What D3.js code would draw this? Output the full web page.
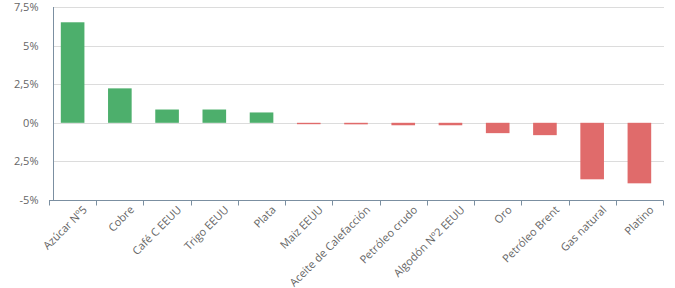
<!DOCTYPE html>
<html>
  <head>
    <meta charset="utf-8">
    <title>Materias primas</title>
    <script src="https://cdn.jsdelivr.net/npm/d3@7"></script>
    <style>
      body { margin: 0; background: #fff; }
      svg text { font-family: "Open Sans", "Noto Sans", sans-serif; font-size: 11px; fill: #666; }
      .grid line { stroke: #dcdcdc; stroke-width: 1px; }
      .axis path, .axis line { stroke: #7b8fa1; }
    </style>
  </head>
  <body>
    <div id="chart"></div>
    <script>
// datos
var categorias = ["Azúcar Nº5", "Cobre", "Café C EEUU", "Trigo EEUU", "Plata", "Maiz EEUU",
  "Aceite de Calefacción", "Petróleo crudo", "Algodón Nº2 EEUU", "Oro", "Petróleo Brent",
  "Gas natural", "Platino"];
var valores = [6.51, 2.23, 0.86, 0.86, 0.67, -0.09, -0.1, -0.16, -0.16, -0.67, -0.8, -3.66, -3.92];
var ticksY = [7.5, 5, 2.5, 0, -2.5, -5];
var etiquetasY = ["7,5%", "5%", "2,5%", "0%", "2,5%", "-5%"];

var W = 675, H = 288;

var svg = d3.select("#chart").append("svg")
    .attr("width", W)
    .attr("height", H);

var x = d3.scaleBand()
    .domain(categorias)
    .range([49, 663])
    .paddingInner(0.5)
    .paddingOuter(0.25);

var y = d3.scaleLinear()
    .domain([-5, 7.5])
    .range([200, 7]);

// rejilla
svg.append("g")
    .attr("class", "grid")
    .selectAll("line")
    .data(ticksY)
    .enter().append("line")
    .attr("x1", 53).attr("x2", 664)
    .attr("y1", function(d){ return Math.round(y(d)) + 0.5; })
    .attr("y2", function(d){ return Math.round(y(d)) + 0.5; });

// barras
svg.append("g")
    .selectAll("rect")
    .data(valores)
    .enter().append("rect")
    .attr("x", function(d, i){ return x(categorias[i]); })
    .attr("width", x.bandwidth())
    .attr("y", function(d){ return y(Math.max(0, d)); })
    .attr("height", function(d){ return Math.abs(y(d) - y(0)); })
    .attr("fill", function(d){ return d >= 0 ? "#4daf6c" : "#e06b6b"; });

// eje Y
var ejeY = svg.append("g")
    .attr("class", "axis")
    .attr("transform", "translate(53.5,0)")
    .call(d3.axisLeft(y).tickValues(ticksY).tickSize(0).tickPadding(15)
      .tickFormat(function(d, i){ return etiquetasY[i]; }));
ejeY.select(".domain").attr("d", "M0," + y(7.5) + "V" + y(-5));

// eje X
var paso = x.step();
var bordes = d3.range(categorias.length + 1).map(function(i){ return 49 + i * paso; });
var ejeX = svg.append("g")
    .attr("class", "axis")
    .attr("transform", "translate(0,200.5)");
ejeX.append("path")
    .attr("d", "M49,0H663")
    .attr("fill", "none");
ejeX.selectAll("line")
    .data(bordes)
    .enter().append("line")
    .attr("x1", function(d){ return Math.round(d) + 0.5; })
    .attr("x2", function(d){ return Math.round(d) + 0.5; })
    .attr("y1", 0).attr("y2", 5);
ejeX.selectAll("text")
    .data(categorias)
    .enter().append("text")
    .attr("text-anchor", "end")
    .attr("transform", function(d){
      return "translate(" + (x(d) + x.bandwidth() / 2 + 15) + ",10) rotate(-45)";
    })
    .text(function(d){ return d; });
    </script>
  </body>
</html>
